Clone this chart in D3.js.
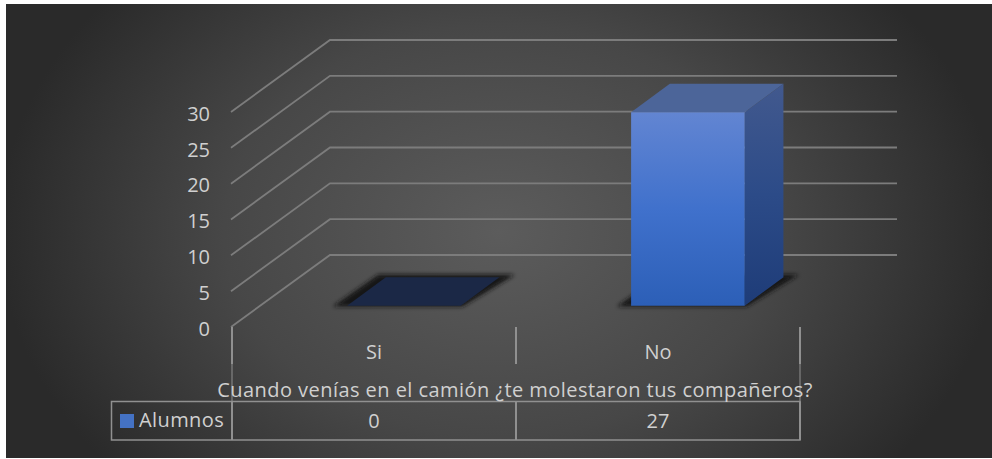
<!DOCTYPE html>
<html><head><meta charset="utf-8">
<style>html,body{margin:0;padding:0;background:#fff}svg{display:block}text{font-family:"Open Sans",sans-serif;fill:#d0d0d0}</style>
<script src="https://cdn.jsdelivr.net/npm/d3@7"></script></head>
<body><svg id="c" width="992" height="459"></svg>
<script>
const categories = ["Si", "No"];
const seriesName = "Alumnos";
const alumnos = [0, 27];
const yTicks = [0, 5, 10, 15, 20, 25, 30];
const axisTitle = "Cuando venías en el camión ¿te molestaron tus compañeros?";

const svg = d3.select("#c");
const defs = svg.append("defs");
const W = 992, H = 459;

const bg = defs.append("radialGradient").attr("id","bg").attr("gradientUnits","userSpaceOnUse")
  .attr("cx",499).attr("cy",231).attr("r",500).attr("gradientTransform","translate(499 231) scale(1 .75) translate(-499 -231)");
bg.append("stop").attr("offset",0).attr("stop-color","#5c5c5c");
bg.append("stop").attr("offset",.55).attr("stop-color","#474747");
bg.append("stop").attr("offset",1).attr("stop-color","#2a2a2a");
const grad=(id,x2,y2,stops)=>{const g=defs.append("linearGradient").attr("id",id).attr("x1",0).attr("y1",0).attr("x2",x2).attr("y2",y2);
  stops.forEach(s=>g.append("stop").attr("offset",s[0]).attr("stop-color",s[1]));};
grad("front",0,1,[[0,"#6285d2"],[.5,"#4071cc"],[1,"#2c5fb7"]]);
grad("side",0,1,[[0,"#42598e"],[.5,"#2c4b88"],[1,"#1e3c78"]]);
const blur=(id,s)=>defs.append("filter").attr("id",id).attr("x","-20%").attr("y","-40%").attr("width","140%").attr("height","180%")
  .append("feGaussianBlur").attr("stdDeviation",s);
blur("blur",2);
defs.append("filter").attr("id","soft").attr("filterUnits","userSpaceOnUse").attr("x",0).attr("y",0).attr("width",W).attr("height",H)
  .append("feGaussianBlur").attr("stdDeviation",.45);

svg.append("rect").attr("x",6).attr("y",4).attr("width",W-6).attr("height",454).attr("fill","url(#bg)");

const y = d3.scaleLinear().domain([0,30]).range([327,112]);
const x = d3.scaleBand().domain(categories).range([233,801]).paddingInner(.6).paddingOuter(.3);
const col = d3.scaleBand().domain(categories).range([232,800]);
const depth = d3.scaleLinear().domain([0,1]).range([0,98]);
const rise = d3.scaleLinear().domain([0,1]).range([0,72]);
const barFront=.295, barBack=.69;
const pt=(px,v,d)=>[px+depth(d), y(v)-rise(d)];
const line=d3.line();
const grid="#7c7c7c";

svg.append("g").attr("filter","url(#soft)").selectAll("path").data(yTicks).join("path")
  .attr("d",t=>line([pt(231,t,0),pt(232,t,1),pt(799,t,1)]))
  .attr("fill","none").attr("stroke",grid).attr("stroke-width",1.8);

const g = svg.append("g").selectAll("g").data(categories.map((c,i)=>({c,v:alumnos[i]}))).join("g");
g.append("path").attr("filter","url(#blur)").attr("fill","#141414")
  .attr("d",d=>{const x0=x(d.c),w=x.bandwidth();
    return line([pt(x0-13,0,barFront-.012),pt(x0+w+3,0,barFront-.012),pt(x0+w+12,0,barBack+.035),pt(x0-11,0,barBack+.035)])+"Z";});
g.filter(d=>d.v>0).append("path").attr("fill","url(#side)")
  .attr("d",d=>{const r=x(d.c)+x.bandwidth();
    return line([pt(r,d.v,barFront),pt(r,d.v,barBack),pt(r,0,barBack),pt(r,0,barFront)])+"Z";});
g.append("path").attr("fill",d=>d.v>0?"#4c6599":"#1b2846")
  .attr("d",d=>{const l=x(d.c),r=l+x.bandwidth();
    return line([pt(l,d.v,barFront),pt(r,d.v,barFront),pt(r,d.v,barBack),pt(l,d.v,barBack)])+"Z";});
g.filter(d=>d.v>0).append("path").attr("fill","url(#front)")
  .attr("d",d=>{const l=x(d.c),r=l+x.bandwidth();
    return line([pt(l,d.v,barFront),pt(r,d.v,barFront),pt(r,0,barFront),pt(l,0,barFront)])+"Z";});

svg.append("g").selectAll("text").data(yTicks).join("text")
  .attr("x",210).attr("y",t=>y(t)+1.5).attr("dy",".36em").attr("text-anchor","end")
  .attr("font-size",20).text(d=>d);

const edges=[232,...categories.map(c=>col(c)+col.bandwidth())];
const tableTop=401.5,tableBot=440,catTop=327;
const rule="#909090";
const table=svg.append("g").attr("filter","url(#soft)");
table.selectAll(".a").data(edges).join("line").attr("class","a")
  .attr("x1",d=>d).attr("x2",d=>d).attr("y1",catTop).attr("y2",364).attr("stroke",rule).attr("stroke-width",2);
table.selectAll(".b").data(edges).join("line").attr("class","b")
  .attr("x1",d=>d).attr("x2",d=>d).attr("y1",tableTop).attr("y2",tableBot).attr("stroke",rule).attr("stroke-width",2);
table.selectAll(".c").data([edges[0],edges[2]]).join("line").attr("class","c")
  .attr("x1",d=>d).attr("x2",d=>d).attr("y1",364).attr("y2",tableTop).attr("stroke",rule).attr("stroke-width",1);
table.append("rect").attr("x",111.5).attr("y",tableTop).attr("width",800-111.5).attr("height",tableBot-tableTop)
  .attr("fill","none").attr("stroke",rule).attr("stroke-width",1.5);
svg.append("g").selectAll("text").data(categories).join("text")
  .attr("x",d=>col(d)+col.bandwidth()/2).attr("y",352).attr("dy",".36em").attr("text-anchor","middle").attr("font-size",20).text(d=>d);
svg.append("g").selectAll("text").data(alumnos).join("text")
  .attr("x",(d,i)=>col(categories[i])+col.bandwidth()/2).attr("y",421).attr("dy",".36em").attr("text-anchor","middle").attr("font-size",20).text(d=>d);
svg.append("text").attr("x",515).attr("y",390).attr("dy",".36em").attr("text-anchor","middle").attr("font-size",20).attr("letter-spacing",.45).text(axisTitle);
svg.append("rect").attr("x",120).attr("y",414).attr("width",14).attr("height",14).attr("fill","#4472c4");
svg.append("text").attr("x",139).attr("y",420).attr("dy",".36em").attr("font-size",20).attr("letter-spacing",.4).text(seriesName);
</script></body></html>
